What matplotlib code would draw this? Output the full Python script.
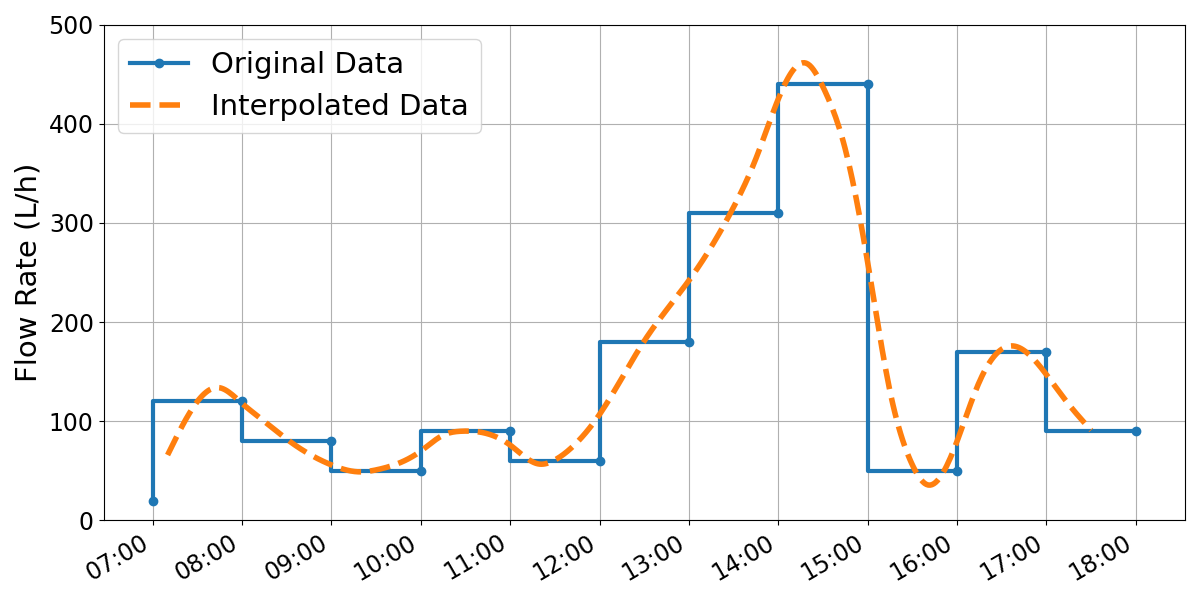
import numpy as np
import pandas as pd
import matplotlib
matplotlib.use("Agg")
import matplotlib.pyplot as plt
import matplotlib.dates as mdates

# hourly readings (step values hold over the hour ending at each time)
hours = ["07:00", "08:00", "09:00", "10:00", "11:00", "12:00",
         "13:00", "14:00", "15:00", "16:00", "17:00", "18:00"]
flow = [20, 120, 80, 50, 90, 60, 180, 310, 440, 50, 170, 90]

# smooth curve
curve_times = ["07:10", "07:30", "07:44", "08:00", "08:15", "08:30", "09:00",
               "09:20", "09:30", "10:00", "10:15", "10:27", "11:00", "11:19",
               "11:30", "11:45", "12:00", "12:30", "13:00", "13:30", "13:45",
               "14:00", "14:20", "14:30", "14:45", "15:00", "15:15", "15:30",
               "15:40", "16:00", "16:15", "16:37", "17:00", "17:15", "17:30"]
curve_flow = [66, 120, 134, 118, 100, 82, 56,
              49, 51, 70, 86, 90, 76, 57,
              61, 79, 107, 181, 242, 316, 365,
              425, 460, 437, 374, 260, 130, 56,
              36, 80, 140, 176, 147, 117, 91]


def to_dt(t):
    return pd.to_datetime("2024-01-01 " + pd.Series(t))


def smooth(xk, yk, xs):
    # natural cubic spline through the read points
    xk = np.asarray(xk, float)
    yk = np.asarray(yk, float)
    n = len(xk)
    h = np.diff(xk)
    A = np.zeros((n, n))
    b = np.zeros(n)
    A[0, 0] = A[-1, -1] = 1
    for i in range(1, n - 1):
        A[i, i - 1] = h[i - 1]
        A[i, i] = 2 * (h[i - 1] + h[i])
        A[i, i + 1] = h[i]
        b[i] = 6 * ((yk[i + 1] - yk[i]) / h[i] - (yk[i] - yk[i - 1]) / h[i - 1])
    M = np.linalg.solve(A, b)
    idx = np.clip(np.searchsorted(xk, xs) - 1, 0, n - 2)
    x0, x1 = xk[idx], xk[idx + 1]
    hh = x1 - x0
    return (M[idx] * (x1 - xs) ** 3 / (6 * hh) + M[idx + 1] * (xs - x0) ** 3 / (6 * hh)
            + (yk[idx] / hh - M[idx] * hh / 6) * (x1 - xs)
            + (yk[idx + 1] / hh - M[idx + 1] * hh / 6) * (xs - x0))


x = to_dt(hours)
xk = mdates.date2num(to_dt(curve_times))
xs = np.linspace(xk[0], xk[-1], 500)
ys = smooth(xk, curve_flow, xs)

fig, ax = plt.subplots(figsize=(12, 6), dpi=100)
ax.plot(x, flow, drawstyle="steps-pre", marker="o", markersize=6,
        lw=3, color="#1f77b4", label="Original Data")
ax.plot(mdates.num2date(xs), ys, "--", lw=4, color="#ff7f0e",
        label="Interpolated Data")

ax.set_ylim(0, 500)
ax.set_ylabel("Flow Rate (L/h)", fontsize=21)
ax.xaxis.set_major_locator(mdates.HourLocator())
ax.xaxis.set_major_formatter(mdates.DateFormatter("%H:%M"))
ax.tick_params(labelsize=17)
ax.grid(True)
ax.legend(fontsize=21, loc="upper left")
fig.autofmt_xdate()
fig.tight_layout()
fig.savefig("out.png")
